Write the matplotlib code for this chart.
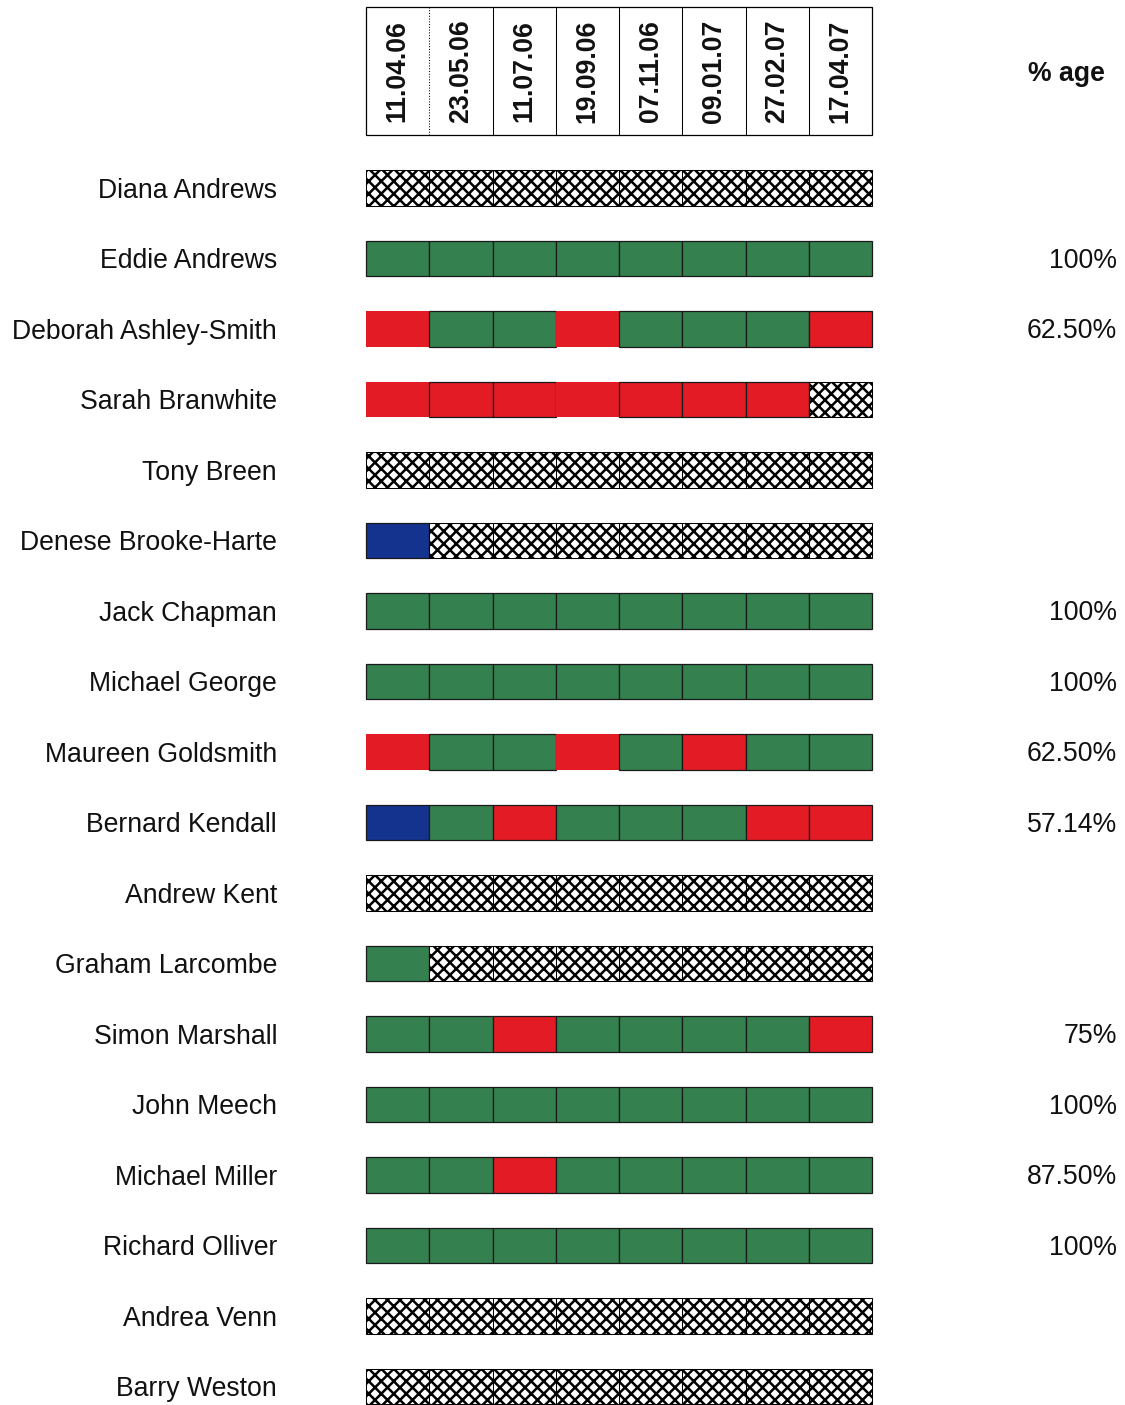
import matplotlib.pyplot as plt
from matplotlib.patches import Rectangle

plt.rcParams['font.family'] = ['Liberation Sans', 'DejaVu Sans']
plt.rcParams['hatch.linewidth'] = 2.4

dates = ["11.04.06", "23.05.06", "11.07.06", "19.09.06",
         "07.11.06", "09.01.07", "27.02.07", "17.04.07"]

names = ["Diana Andrews", "Eddie Andrews", "Deborah Ashley-Smith", "Sarah Branwhite",
         "Tony Breen", "Denese Brooke-Harte", "Jack Chapman", "Michael George",
         "Maureen Goldsmith", "Bernard Kendall", "Andrew Kent", "Graham Larcombe",
         "Simon Marshall", "John Meech", "Michael Miller", "Richard Olliver",
         "Andrea Venn", "Barry Weston"]

# G = attended, R = absent, B = apologies, X = not applicable
status = ["XXXXXXXX", "GGGGGGGG", "RGGRGGGR", "RRRRRRRX",
          "XXXXXXXX", "BXXXXXXX", "GGGGGGGG", "GGGGGGGG",
          "RGGRGRGG", "BGRGGGRR", "XXXXXXXX", "GXXXXXXX",
          "GGRGGGGR", "GGGGGGGG", "GGRGGGGG", "GGGGGGGG",
          "XXXXXXXX", "XXXXXXXX"]

percent = ["", "100%", "62.50%", "", "", "", "100%", "100%",
           "62.50%", "57.14%", "", "", "75%", "100%", "87.50%", "100%", "", ""]

colours = {"G": "#34804f", "R": "#e31b25", "B": "#14338f"}

fig = plt.figure(figsize=(15, 1405 / 75), dpi=75)
ax = fig.add_axes([0, 0, 1, 1])
ax.set_xlim(-366 / 63.25, (1125 - 366) / 63.25)
ax.set_ylim((1405 - 188) / 70.5, -188 / 70.5)
ax.axis("off")

fs = 25.5
h = 0.51
for r, row in enumerate(status):
    for c, s in enumerate(row):
        if s == "X":
            p = Rectangle((c, r - h / 2), 1, h, facecolor="white",
                          edgecolor="black", hatch="xx", linewidth=1.0)
        elif s == "R" and c in (0, 3):
            p = Rectangle((c, r - h / 2), 1, h, facecolor=colours[s],
                          edgecolor="none")
        else:
            p = Rectangle((c, r - h / 2), 1, h, facecolor=colours[s],
                          edgecolor="#1a1a1a", linewidth=1.2)
        ax.add_patch(p)
    ax.text(-1.407, r + 0.04, names[r], ha="right", va="center", fontsize=fs, color="#111111")
    if percent[r]:
        ax.text(11.874, r + 0.03, percent[r], ha="right", va="center", fontsize=fs, color="#111111")

# header box with dates
top, bot = (7 - 188) / 70.5, (135 - 188) / 70.5
ax.add_patch(Rectangle((0, top), len(dates), bot - top, facecolor="white",
                       edgecolor="black", linewidth=1.2))
for c, d in enumerate(dates):
    if c > 0:
        ax.plot([c, c], [top, bot], color="black", linewidth=1.0,
                linestyle=":" if c == 1 else "-")
    ax.text(c + 0.5, (top + bot) / 2, d, rotation=90, ha="center", va="center",
            fontsize=fs, fontweight="bold", color="#111111")

ax.text(11.08, -1.62, "% age", ha="center", va="center", fontsize=fs,
        fontweight="bold", color="#111111")

fig.savefig("out.png", dpi=75)
